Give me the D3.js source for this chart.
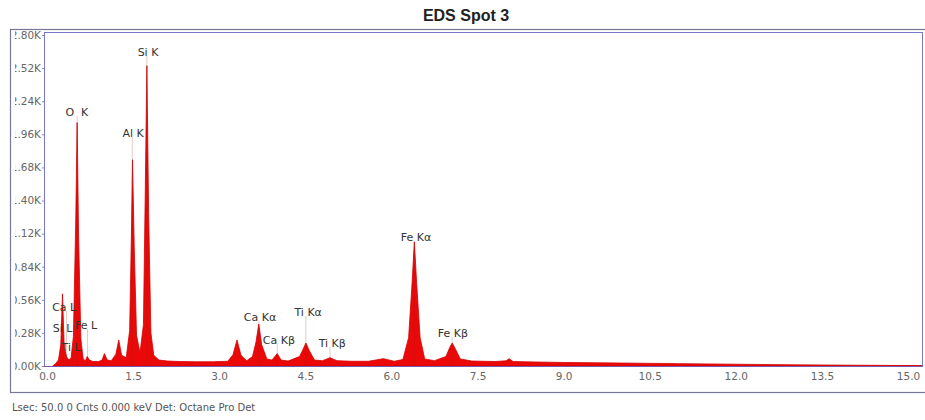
<!DOCTYPE html>
<html>
<head>
  <meta charset="utf-8">
  <style type="text/css">
    body { margin: 0; background: #fff; }
    svg { display: block; }
    .title { font: bold 16px "Liberation Sans", Arial, sans-serif; fill: #222; }
    .tick text { font: 10.5px "DejaVu Sans", Verdana, sans-serif; fill: #666; }
    .peak { font: 11px "DejaVu Sans", Verdana, sans-serif; fill: #333; }
    .footer { font: 10px "DejaVu Sans", Verdana, sans-serif; fill: #555; }
  </style>
</head>
<body>
<svg class="eds" width="925" height="420"></svg>

<script src="https://d3js.org/d3.v7.min.js"></script>
<script>
// spectrum: energy (keV) and counts
var energy = [0.10, 0.15, 0.20, 0.24, 0.27, 0.30, 0.34, 0.38, 0.42, 0.46,
  0.50, 0.525, 0.55, 0.59, 0.63, 0.67, 0.70, 0.74, 0.80, 0.90,
  0.96, 1.00, 1.05, 1.12, 1.20, 1.25, 1.30, 1.38, 1.44, 1.47,
  1.49, 1.52, 1.56, 1.62, 1.68, 1.71, 1.74, 1.77, 1.81, 1.86,
  1.95, 2.10, 2.30, 2.60, 2.90, 3.15, 3.24, 3.31, 3.38, 3.48,
  3.58, 3.64, 3.69, 3.74, 3.83, 3.92, 4.01, 4.08, 4.20, 4.40,
  4.46, 4.51, 4.57, 4.66, 4.80, 4.93, 5.05, 5.30, 5.60, 5.86,
  6.05, 6.20, 6.30, 6.36, 6.40, 6.44, 6.50, 6.58, 6.75, 6.95,
  7.02, 7.06, 7.12, 7.20, 7.40, 7.80, 8.00, 8.05, 8.12, 8.50,
  9.00, 10.0, 11.0, 12.0, 13.0, 14.0, 15.0, 15.3];
var counts = [0, 20, 50, 180, 610, 160, 80, 50, 70, 250,
  1200, 2060, 1100, 230, 60, 45, 80, 50, 38, 38,
  50, 105, 50, 45, 100, 220, 90, 70, 300, 1100,
  1745, 1000, 260, 110, 350, 1400, 2540, 1300, 280, 90,
  50, 42, 38, 36, 36, 40, 95, 220, 90, 45,
  80, 200, 355, 180, 60, 50, 105, 50, 42, 80,
  140, 195, 130, 50, 45, 70, 45, 40, 40, 62,
  40, 55, 240, 700, 1050, 700, 240, 60, 45, 80,
  160, 195, 140, 60, 42, 38, 44, 62, 38, 34,
  30, 25, 20, 15, 10, 7, 4, 3];

// peak labels: name, line energy, label centre (keV) and label height (counts)
var peakNames = ["O\u00a0 K", "Al K", "Si K", "Ca L", "Si L", "Fe L", "Ti L",
  "Ca K\u03b1", "Ca K\u03b2", "Ti K\u03b1", "Ti K\u03b2", "Fe K\u03b1", "Fe K\u03b2"];
var peakLineE = [0.525, 1.486, 1.740, 0.341, 0.28, 0.705, 0.452,
  3.691, 4.012, 4.510, 4.931, 6.398, 7.057];
var labelE = [0.52, 1.50, 1.76, 0.30, 0.27, 0.68, 0.42,
  3.71, 4.04, 4.55, 4.97, 6.43, 7.07];
var labelC = [2150, 1970, 2656, 500, 320, 347, 160,
  417, 220, 459, 197, 1094, 279];

var xTicks = [0, 1.5, 3, 4.5, 6, 7.5, 9, 10.5, 12, 13.5, 15];
var yTicks = [0, 280, 560, 840, 1120, 1400, 1680, 1960, 2240, 2520, 2800];

var svg = d3.select(".eds");

var plot = {left: 44, right: 922, top: 32, bottom: 367};

var x = d3.scaleLinear().domain([0, 15]).range([47, 908]);
var y = d3.scaleLinear().domain([0, 2800]).range([366, 35]);

// title
svg.append("text")
    .attr("class", "title")
    .attr("x", 466)
    .attr("y", 21)
    .attr("text-anchor", "middle")
    .text("EDS Spot 3");

var defs = svg.append("defs");
defs.append("clipPath").attr("id", "plotclip")
  .append("rect")
    .attr("x", plot.left).attr("y", plot.top)
    .attr("width", plot.right - plot.left).attr("height", plot.bottom - plot.top);
defs.append("clipPath").attr("id", "yclip")
  .append("rect")
    .attr("x", 15).attr("y", 0).attr("width", 40).attr("height", 420);

// spectrum
var spectrum = energy.map(function(e, i) { return {e: e, c: counts[i]}; });

var area = d3.area()
    .x(function(d) { return x(d.e); })
    .y0(y(0))
    .y1(function(d) { return y(d.c); });

svg.append("g")
    .attr("clip-path", "url(#plotclip)")
  .append("path")
    .datum(spectrum)
    .attr("d", area)
    .attr("fill", "#ea0808")
    .attr("stroke", "#d40000")
    .attr("stroke-width", 0.8);

// element marker lines
svg.append("g").selectAll("line")
    .data(peakLineE)
    .enter().append("line")
      .attr("x1", function(d) { return x(d); })
      .attr("x2", function(d) { return x(d); })
      .attr("y1", function(d, i) { return y(labelC[i]) + 4; })
      .attr("y2", y(0))
      .attr("stroke", "#a02020")
      .attr("stroke-opacity", 0.3)
      .attr("stroke-width", 0.8);

// plot frame
svg.append("rect")
    .attr("x", plot.left + 0.5).attr("y", plot.top + 0.5)
    .attr("width", plot.right - plot.left).attr("height", plot.bottom - plot.top - 1)
    .attr("fill", "none")
    .attr("stroke", "#7878cc");
svg.append("line").attr("x1", plot.left).attr("x2", plot.right + 1)
    .attr("y1", 366.5).attr("y2", 366.5)
    .attr("stroke", "#7a5aa8").attr("stroke-width", 1.2);

// axes
svg.append("g")
    .attr("transform", "translate(0,367)")
    .call(d3.axisBottom(x).tickValues(xTicks).tickSize(0).tickPadding(6)
      .tickFormat(d3.format(".1f")))
    .call(function(g) { g.select(".domain").remove(); });

svg.append("g")
    .attr("clip-path", "url(#yclip)")
  .append("g")
    .attr("transform", "translate(" + plot.left + ",0)")
    .call(d3.axisLeft(y).tickValues(yTicks).tickSize(2).tickPadding(1)
      .tickFormat(function(d) { return (d / 1000).toFixed(2) + "K"; }))
    .call(function(g) {
      g.select(".domain").remove();
      g.selectAll(".tick line").attr("stroke", "#8888bb");
    });

// peak labels
svg.append("g").selectAll("text")
    .data(peakNames)
    .enter().append("text")
      .attr("class", "peak")
      .attr("x", function(d, i) { return x(labelE[i]); })
      .attr("y", function(d, i) { return y(labelC[i]) + 4; })
      .attr("text-anchor", "middle")
      .text(function(d) { return d; });

// outer panel box, right edge runs off the page
svg.append("rect")
    .attr("class", "panel")
    .attr("x", 10.5)
    .attr("y", 29.5)
    .attr("width", 930)
    .attr("height", 363)
    .attr("fill", "none")
    .attr("stroke", "#777799")
    .attr("stroke-width", 1.2);

// footer
svg.append("text")
    .attr("class", "footer")
    .attr("x", 12)
    .attr("y", 411)
    .text("Lsec: 50.0 0 Cnts 0.000 keV Det: Octane Pro Det");
</script>
</body>
</html>
